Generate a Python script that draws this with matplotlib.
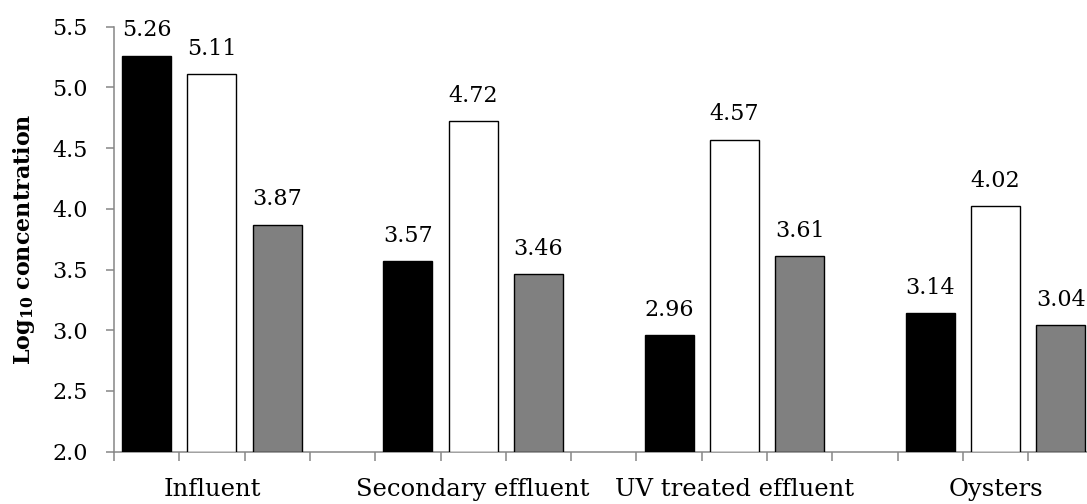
import numpy as np
import matplotlib as mp
mp.use('Agg')
import matplotlib.pyplot as plt
from matplotlib.ticker import FixedLocator, NullFormatter, FixedFormatter

plt.rc('font', family='DejaVu Serif', size=16)
plt.rc('mathtext', fontset='dejavuserif')

groups = ['Influent', 'Secondary effluent', 'UV treated effluent', 'Oysters']
series_a = [5.26, 3.57, 2.96, 3.14]   # black
series_b = [5.11, 4.72, 4.57, 4.02]   # white
series_c = [3.87, 3.46, 3.61, 3.04]   # gray

fig = plt.figure(figsize=(10.87, 5.04), dpi=100)
ax1 = fig.add_axes([0.1049, 0.1038, 0.8951, 0.8433])

# each bar sits in its own slot, one empty slot after each group
n_per = 4
base = np.arange(len(groups)) * n_per
w = 0.75
styles = [('#000000', series_a), ('#ffffff', series_b), ('#808080', series_c)]
for k, (fc, vals) in enumerate(styles):
    xs = base + k
    ax1.bar(xs, np.array(vals) - 2.0, bottom=2.0, width=w, color=fc,
            edgecolor='black', linewidth=1.0, zorder=3)
    for x, v in zip(xs, vals):
        ax1.annotate('%.2f' % v, (x, v), xytext=(0, 14), textcoords='offset points',
                     ha='center', va='baseline', fontsize=16)

ax1.set_ylim(2.0, 5.5)
ax1.set_xlim(-0.5, 14.4)
ax1.set_yticks(np.arange(2.0, 5.51, 0.5))
ax1.set_yticklabels(['%.1f' % t for t in np.arange(2.0, 5.51, 0.5)])

ax1.xaxis.set_major_locator(FixedLocator(np.arange(-0.5, 15.0, 1.0)))
ax1.xaxis.set_major_formatter(NullFormatter())
ax1.xaxis.set_minor_locator(FixedLocator(base + 1))
ax1.xaxis.set_minor_formatter(FixedFormatter(groups))

for s in ['top', 'right']:
    ax1.spines[s].set_visible(False)
for s in ['left', 'bottom']:
    ax1.spines[s].set_color('#868686')
    ax1.spines[s].set_linewidth(1.1)

ax1.tick_params(axis='y', which='major', length=6, width=1.1, color='#868686', pad=13, labelsize=16)
ax1.tick_params(axis='x', which='major', length=6.5, width=1.1, color='#868686')
ax1.tick_params(axis='x', which='minor', length=0, pad=19, labelsize=17.5)

ax1.set_ylabel(r'$\mathbf{Log_{10}\ concentration}$', fontsize=16, labelpad=11)

plt.savefig('out.png', dpi=100)
